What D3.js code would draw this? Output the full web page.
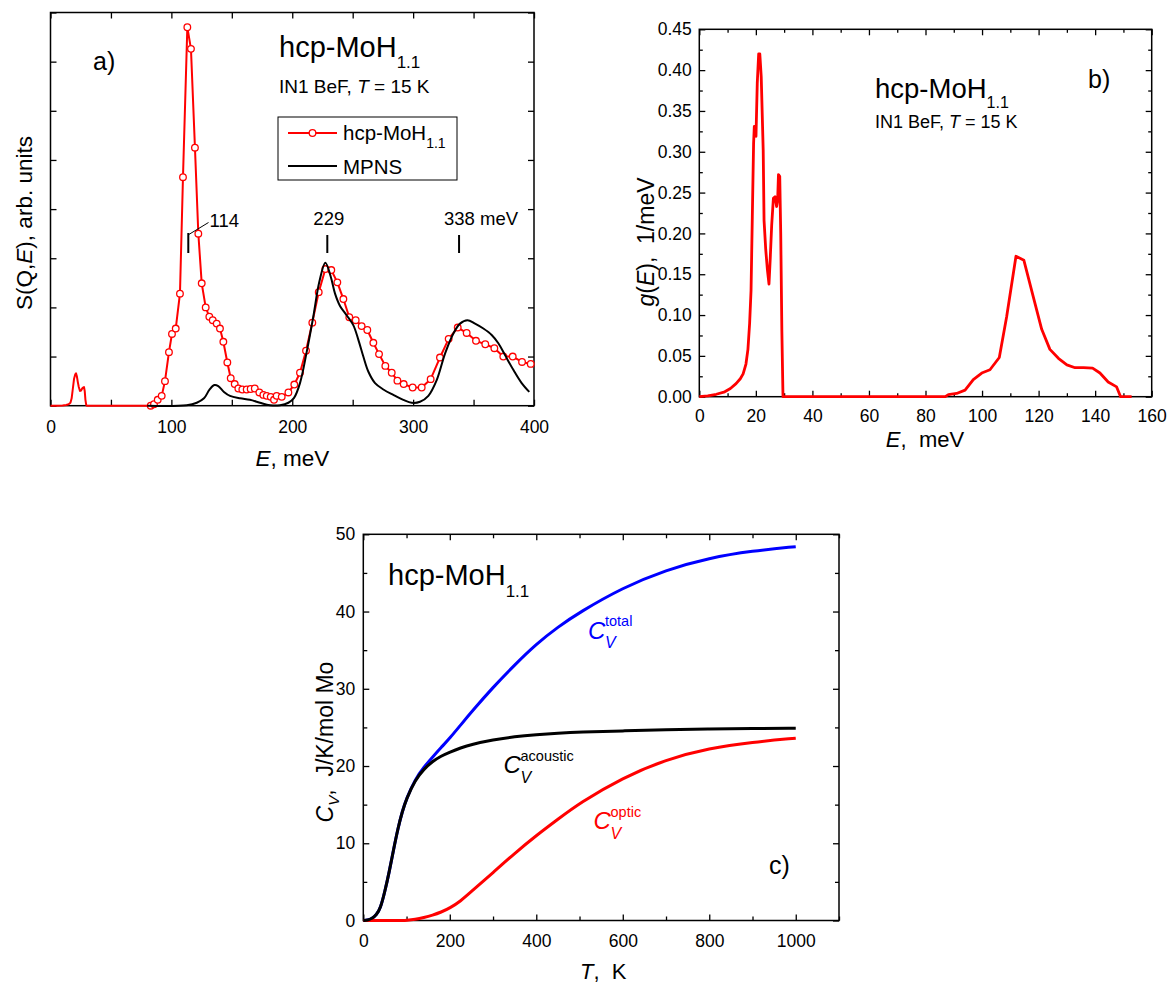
<!DOCTYPE html>
<html><head><meta charset="utf-8">
<script src="https://cdn.jsdelivr.net/npm/d3@7"></script>
<style>
body{margin:0;background:#fff;}
svg text{font-family:"Liberation Sans", Arial, sans-serif; white-space:pre;}
</style></head><body>
<svg id="chart" width="1171" height="984"></svg>
<script>
// ---------------- Panel a data ----------------
const aXTicks = [0, 100, 200, 300, 400];
const aXMinor = [50, 150, 250, 350];
const aYTicks = [0, 1, 2, 3, 4, 5, 6, 7, 8];
// red line without markers (low energy part)
const aLowE = [0, 5, 10, 13, 15, 16.5, 17.5, 18.5, 19.5, 20.5, 21.1, 21.8, 22.6, 23.4, 24.4, 25.3, 26.2, 27.0, 27.7, 28.3, 28.9, 29.5, 30, 40, 60];
const aLowV = [0, 0, 0.005, 0.015, 0.03, 0.06, 0.15, 0.35, 0.55, 0.64, 0.66, 0.6, 0.48, 0.38, 0.3, 0.31, 0.35, 0.37, 0.38, 0.3, 0.12, 0.02, 0, 0, 0];
// hcp-MoH1.1 experimental points (with markers)
const aExpE = [82.9, 85.6, 88.7, 92, 94.7, 98, 100.5, 103.6, 107.1, 109.6, 113.2, 116.2, 119.5, 122.3, 125.1, 128.4, 131.4, 134.2, 137.5, 140.2, 143, 146.3, 149.1, 152.4, 155.4, 158.7, 162.3, 165.6, 169, 172.8, 176.1, 178.9, 182.2, 184.9, 187.1, 191.3, 196.8, 201.7, 206.4, 211.4, 216.6, 221.9, 227.4, 232.3, 237.3, 242.3, 247.2, 252.5, 257.4, 262.1, 267.1, 271.8, 277, 282.3, 287, 292.2, 299.6, 307.1, 314.5, 322.2, 329.4, 336.9, 344.3, 352, 359.7, 367.2, 374.6, 382.4, 390.1, 397.3];
const aExpV = [0, 0.03, 0.12, 0.2, 0.5, 1.09, 1.46, 1.57, 2.28, 4.65, 7.70, 7.26, 5.25, 3.5, 2.49, 2.0, 1.81, 1.74, 1.67, 1.57, 1.30, 0.88, 0.56, 0.44, 0.35, 0.33, 0.33, 0.34, 0.35, 0.27, 0.22, 0.2, 0.18, 0.12, 0.2, 0.18, 0.27, 0.43, 0.67, 1.12, 1.69, 2.31, 2.78, 2.76, 2.51, 2.17, 1.80, 1.74, 1.62, 1.54, 1.28, 1.05, 0.81, 0.67, 0.51, 0.44, 0.37, 0.37, 0.54, 0.98, 1.36, 1.59, 1.48, 1.32, 1.25, 1.17, 1.0, 1.0, 0.89, 0.85];
// MPNS calculation
const aMpnsE = [80, 112.7, 121, 127, 131.4, 135.5, 138.8, 143.5, 148.5, 156.8, 165, 173.3, 181.6, 189.9, 196.8, 201.5, 206.4, 212, 217.4, 222.4, 227.4, 231.8, 235.4, 239.5, 245, 250.5, 254.7, 258.8, 263, 268.5, 275.4, 283.6, 291.9, 298.8, 305.7, 312.6, 319.5, 326.4, 333.3, 338.8, 344.9, 351.2, 358.1, 365, 370.5, 376, 382.9, 389.8, 396.1];
const aMpnsV = [0, 0.01, 0.06, 0.15, 0.32, 0.42, 0.40, 0.28, 0.2, 0.15, 0.12, 0.06, 0.01, 0.01, 0.06, 0.16, 0.46, 1.10, 1.81, 2.52, 2.91, 2.63, 2.28, 2.03, 1.84, 1.64, 1.34, 1.0, 0.69, 0.46, 0.33, 0.22, 0.12, 0.06, 0.08, 0.2, 0.52, 1.06, 1.47, 1.67, 1.74, 1.67, 1.57, 1.44, 1.27, 1.03, 0.73, 0.46, 0.28];
const aPeakE = [114, 229, 338];
const aPeakLabels = ["114", "229", "338 meV"];

// ---------------- Panel b data ----------------
const bXTicks = [0, 20, 40, 60, 80, 100, 120, 140, 160];
const bXMinor = [10, 30, 50, 70, 90, 110, 130, 150];
const bYTicks = [0, 0.05, 0.10, 0.15, 0.20, 0.25, 0.30, 0.35, 0.40, 0.45];
const bYMinor = [0.025, 0.075, 0.125, 0.175, 0.225, 0.275, 0.325, 0.375, 0.425];
const bE = [0, 3, 6, 9, 11, 13, 14.5, 15.5, 16.5, 17.2, 17.8, 18.3, 18.75, 19.2, 19.45, 19.7, 20.05, 20.5, 21.0, 21.4, 21.9, 22.6, 22.9, 23.5, 24.1, 24.65, 25.1, 25.6, 26.2, 26.8, 27.35, 27.7, 28.0, 28.45, 28.8, 29.2, 29.6, 40, 60, 80, 87, 88.1, 91, 94, 96.9, 99.9, 102.8, 106.1, 108.7, 112, 114.8, 118.1, 121.1, 124, 127, 130, 132.9, 135.9, 139.1, 141.7, 144.6, 147.6, 149, 152.9];
const bG = [0, 0.001, 0.003, 0.006, 0.01, 0.016, 0.022, 0.028, 0.04, 0.058, 0.09, 0.13, 0.22, 0.31, 0.331, 0.325, 0.319, 0.384, 0.42, 0.42, 0.392, 0.302, 0.216, 0.18, 0.155, 0.138, 0.17, 0.21, 0.243, 0.245, 0.233, 0.24, 0.272, 0.27, 0.2, 0.08, 0, 0, 0, 0, 0, 0.0025, 0.004, 0.008, 0.021, 0.029, 0.033, 0.048, 0.098, 0.172, 0.167, 0.1225, 0.0825, 0.058, 0.047, 0.039, 0.0355, 0.0355, 0.035, 0.029, 0.018, 0.012, 0, 0];

// ---------------- Panel c data ----------------
const cXTicks = [0, 200, 400, 600, 800, 1000];
const cXMinor = [100, 300, 500, 700, 900, 1100];
const cYTicks = [0, 10, 20, 30, 40, 50];
const cYMinor = [5, 15, 25, 35, 45];
const cT        = [0, 10, 20, 30, 40, 50, 60, 70, 80, 90, 100, 120, 140, 160, 180, 200, 225, 250, 300, 350, 400, 450, 500, 600, 700, 800, 900, 1000];
const cAcoustic = [0, 0.05, 0.25, 0.7, 1.6, 3.8, 6.3, 9.2, 11.9, 14.1, 15.8, 18.2, 19.6, 20.6, 21.3, 21.8, 22.35, 22.8, 23.4, 23.8, 24.05, 24.25, 24.4, 24.55, 24.7, 24.8, 24.85, 24.9];
const cOptic    = [0, 0, 0, 0, 0, 0, 0, 0, 0, 0, 0.02, 0.15, 0.38, 0.68, 1.08, 1.6, 2.5, 3.75, 6.2, 8.7, 11.0, 13.1, 15.2, 18.5, 20.85, 22.3, 23.1, 23.6];
const cTotal    = [0, 0.05, 0.25, 0.7, 1.6, 3.8, 6.3, 9.2, 11.9, 14.1, 15.8, 18.3, 19.85, 21.15, 22.4, 23.6, 25.3, 27.0, 30.2, 33.1, 35.8, 38.0, 39.9, 43.1, 45.4, 46.95, 47.85, 48.4];

// ---------------- helpers ----------------
const svg = d3.select("#chart");
const FONT = '"Liberation Sans", Arial, sans-serif';

function rich(parent, x, y, parts, size, opts = {}) {
  const t = parent.append("text").attr("x", x).attr("y", y)
    .attr("font-size", size).attr("font-family", FONT)
    .attr("fill", opts.fill || "#000");
  if (opts.anchor) t.attr("text-anchor", opts.anchor);
  if (opts.transform) t.attr("transform", opts.transform);
  let shift = 0;
  parts.forEach(p => {
    const s = t.append("tspan").text(p.t);
    if (p.it) s.attr("font-style", "italic");
    if (p.size) s.attr("font-size", p.size);
    const target = p.dy || 0;
    if (target !== shift) { s.attr("dy", target - shift); shift = target; }
    if (p.dx) s.attr("dx", p.dx);
  });
  return t;
}

function axis(g, gen, pos, ticks, size, fmt, pad, fsize) {
  const a = g.append("g").attr("transform", pos)
    .call(gen.tickValues(ticks).tickSize(-size).tickSizeOuter(0).tickPadding(pad).tickFormat(fmt));
  a.select(".domain").remove();
  a.attr("font-size", fsize).attr("font-family", FONT);
  a.selectAll(".tick line").attr("stroke", "#000").attr("stroke-width", 1.3);
  a.selectAll(".tick text").attr("fill", "#000");
  return a;
}

function frame(g, x, y, cfg) {
  const [x0, x1] = x.range(), [y0, y1] = y.range();
  const fs = 17.5;
  axis(g, d3.axisBottom(x), `translate(0,${y0})`, cfg.xT, 6, cfg.xFmt, cfg.xPad, fs);
  axis(g, d3.axisBottom(x), `translate(0,${y0})`, cfg.xM, cfg.minLen, "", 0, fs);
  axis(g, d3.axisTop(x), `translate(0,${y1})`, cfg.xT, 6, "", 0, fs);
  axis(g, d3.axisTop(x), `translate(0,${y1})`, cfg.xM, cfg.minLen, "", 0, fs);
  axis(g, d3.axisLeft(y), `translate(${x0},0)`, cfg.yT, 6, cfg.yFmt, cfg.yPad, fs);
  if (cfg.yM) axis(g, d3.axisLeft(y), `translate(${x0},0)`, cfg.yM, cfg.minLen, "", 0, fs);
  axis(g, d3.axisRight(y), `translate(${x1},0)`, cfg.yT, 6, "", 0, fs);
  if (cfg.yM) axis(g, d3.axisRight(y), `translate(${x1},0)`, cfg.yM, cfg.minLen, "", 0, fs);
  g.append("rect").attr("x", x0).attr("y", y1).attr("width", x1 - x0).attr("height", y0 - y1)
    .attr("fill", "none").attr("stroke", "#000").attr("stroke-width", 1.5);
}

// ================= Panel a =================
const gA = svg.append("g");
const xA = d3.scaleLinear().domain([0, 400]).range([50.5, 534]);
const yA = d3.scaleLinear().domain([0, 8]).range([405.7, 12.5]);
frame(gA, xA, yA, {xT: aXTicks, xM: aXMinor, xFmt: d3.format("d"), xPad: 15,
  yT: aYTicks, yM: null, yFmt: "", yPad: 0, minLen: 6});

const lineA = d3.line().x(d => xA(d[0])).y(d => yA(d[1]));
gA.append("path").datum(d3.zip(aLowE.concat(aExpE), aLowV.concat(aExpV)))
  .attr("d", lineA).attr("fill", "none").attr("stroke", "#ff0000").attr("stroke-width", 2).attr("stroke-linejoin", "round");
gA.append("g").selectAll("circle").data(d3.zip(aExpE, aExpV)).join("circle")
  .attr("cx", d => xA(d[0])).attr("cy", d => yA(d[1])).attr("r", 3.3)
  .attr("fill", "#fff").attr("stroke", "#ff0000").attr("stroke-width", 1.3);
gA.append("path").datum(d3.zip(aMpnsE, aMpnsV))
  .attr("d", lineA.curve(d3.curveCatmullRom.alpha(0.5))).attr("fill", "none").attr("stroke", "#000").attr("stroke-width", 2);

aPeakE.forEach((e, i) => {
  const px = xA(e);
  gA.append("line").attr("x1", px).attr("x2", px).attr("y1", i === 0 ? 233 : 235).attr("y2", 253)
    .attr("stroke", "#000").attr("stroke-width", 2);
});
gA.append("line").attr("x1", xA(aPeakE[0]) + 0.5).attr("y1", 234.5).attr("x2", 208.5).attr("y2", 222.5)
  .attr("stroke", "#000").attr("stroke-width", 1);
rich(gA, 209.5, 227, [{t: aPeakLabels[0]}], 18.5);
rich(gA, xA(aPeakE[1]) + 1.5, 225, [{t: aPeakLabels[1]}], 18.5, {anchor: "middle"});
rich(gA, 444, 225, [{t: aPeakLabels[2]}], 18.5);

rich(gA, 93, 70, [{t: "a)"}], 25);
rich(gA, 279, 57, [{t: "hcp-MoH"}, {t: "1.1", size: 17, dy: 11}], 29);
rich(gA, 279, 93, [{t: "IN1 BeF, "}, {t: "T", it: true}, {t: " = 15 K"}], 19);

gA.append("rect").attr("x", 278).attr("y", 117).attr("width", 179).attr("height", 63)
  .attr("fill", "#fff").attr("stroke", "#000").attr("stroke-width", 1);
gA.append("line").attr("x1", 288).attr("x2", 337).attr("y1", 133).attr("y2", 133).attr("stroke", "#ff0000").attr("stroke-width", 2);
gA.append("circle").attr("cx", 312.5).attr("cy", 133).attr("r", 3.3).attr("fill", "#fff").attr("stroke", "#ff0000").attr("stroke-width", 1.3);
rich(gA, 343, 140, [{t: "hcp-MoH"}, {t: "1.1", size: 14, dy: 8}], 20.5);
gA.append("line").attr("x1", 288).attr("x2", 337).attr("y1", 166).attr("y2", 166).attr("stroke", "#000").attr("stroke-width", 2);
rich(gA, 343, 173.5, [{t: "MPNS"}], 20.5);

rich(gA, 292.5, 466, [{t: "E", it: true}, {t: ", meV"}], 22.5, {anchor: "middle"});
rich(gA, 0, 0, [{t: "S(Q,"}, {t: "E", it: true}, {t: "), arb. units"}], 22.5,
  {anchor: "middle", transform: "translate(31.5,223) rotate(-90)"});

// ================= Panel b =================
const gB = svg.append("g");
const xB = d3.scaleLinear().domain([0, 160]).range([699.3, 1151.7]);
const yB = d3.scaleLinear().domain([0, 0.45]).range([396.7, 29.3]);
frame(gB, xB, yB, {xT: bXTicks, xM: bXMinor, xFmt: d3.format("d"), xPad: 13,
  yT: bYTicks, yM: bYMinor, yFmt: d3.format(".2f"), yPad: 7.5, minLen: 3.5});
const lineB = d3.line().x(d => xB(d[0])).y(d => yB(d[1]));
gB.append("path").datum(d3.zip(bE, bG)).attr("d", lineB).attr("fill", "none")
  .attr("stroke", "#ff0000").attr("stroke-width", 2.8).attr("stroke-linejoin", "round");
rich(gB, 875, 98, [{t: "hcp-MoH"}, {t: "1.1", size: 16, dy: 10}], 27.5);
rich(gB, 875, 128, [{t: "IN1 BeF, "}, {t: "T", it: true}, {t: " = 15 K"}], 18);
rich(gB, 1088, 88, [{t: "b)"}], 25);
rich(gB, 925, 447, [{t: "E", it: true}, {t: ",  meV"}], 22, {anchor: "middle"});
rich(gB, 0, 0, [{t: "g", it: true}, {t: "("}, {t: "E", it: true}, {t: "),  1/meV"}], 23,
  {anchor: "middle", transform: "translate(654,242) rotate(-90)"});

// ================= Panel c =================
const gC = svg.append("g");
const xC = d3.scaleLinear().domain([0, 1100]).range([363.3, 839]);
const yC = d3.scaleLinear().domain([0, 50]).range([920.5, 534.3]);
frame(gC, xC, yC, {xT: cXTicks, xM: cXMinor, xFmt: d3.format("d"), xPad: 14,
  yT: cYTicks, yM: cYMinor, yFmt: d3.format("d"), yPad: 8, minLen: 4});
const lineC = d3.line().x(d => xC(d[0])).y(d => yC(d[1])).curve(d3.curveBasis);
gC.append("path").datum(d3.zip(cT, cTotal)).attr("d", lineC).attr("fill", "none").attr("stroke", "#0000ff").attr("stroke-width", 3);
gC.append("path").datum(d3.zip(cT, cOptic)).attr("d", lineC).attr("fill", "none").attr("stroke", "#ff0000").attr("stroke-width", 3);
gC.append("path").datum(d3.zip(cT, cAcoustic)).attr("d", lineC).attr("fill", "none").attr("stroke", "#000").attr("stroke-width", 3);

rich(gC, 388, 585, [{t: "hcp-MoH"}, {t: "1.1", size: 17, dy: 12}], 29);
rich(gC, 769, 874, [{t: "c)"}], 25);
function cvLabel(x, y, sup, col) {
  rich(gC, x, y, [{t: "C", it: true}], 24, {fill: col});
  rich(gC, x + 17, y - 12.5, [{t: sup}], 14.5, {fill: col});
  rich(gC, x + 17, y + 9.5, [{t: "V", it: true}], 16, {fill: col});
}
cvLabel(588, 638.5, "total", "#0000ff");
cvLabel(503.5, 773, "acoustic", "#000");
cvLabel(593.5, 829, "optic", "#ff0000");
rich(gC, 580, 979, [{t: "T", it: true}, {t: ",  K"}], 22);
rich(gC, 0, 0, [{t: "C", it: true}, {t: "V", it: true, size: 15, dy: 6}, {t: ",  J/K/mol Mo", dy: 0}], 23,
  {anchor: "middle", transform: "translate(333,742) rotate(-90)"});
</script></body></html>
